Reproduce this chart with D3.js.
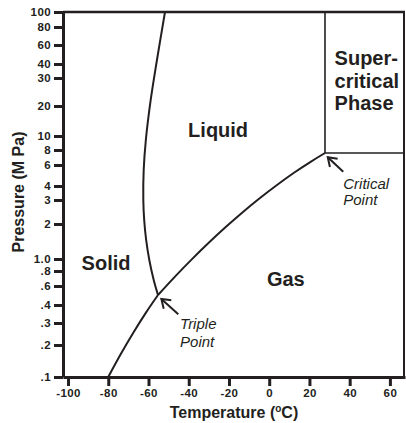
<!DOCTYPE html>
<html>
<head>
<meta charset="utf-8">
<script src="https://cdn.jsdelivr.net/npm/d3@7"></script>
<style>
  body { margin: 0; background: #fff; }
  svg { display: block; font-family: "Liberation Sans", Arial, sans-serif; }
</style>
</head>
<body>
<div id="chart"></div>
<script>
    // axis ticks
    const tempTicks = [-100, -80, -60, -40, -20, 0, 20, 40, 60]
    const pressureTicks = [100, 80, 60, 40, 30, 20, 10, 8, 6, 4, 3, 2, 1, 0.8, 0.6, 0.4, 0.3, 0.2, 0.1]
    const pressureLabels = ["100", "80", "60", "40", "30", "20", "10", "8", "6", "4", "3", "2", "1.0", ".8", ".6", ".4", ".3", ".2", ".1"]

    // phase boundaries, [temperature °C, pressure MPa]
    const sublimation = [[-80, 0.1], [-73.77, 0.1644], [-67.56, 0.2509], [-61.34, 0.3528], [-55.28, 0.495]]
    const melting = [[-55.28, 0.495], [-57.41, 0.673], [-59.6, 0.9815], [-61.17, 1.457], [-62.14, 2.14], [-62.58, 3.0],
        [-62.39, 5.449], [-61.32, 9.382], [-58.91, 21.82], [-55.8, 43.59], [-51.8, 100]]
    const vaporization = [[-55.28, 0.495], [-46.83, 0.7187], [-38.38, 0.998], [-29.93, 1.386], [-21.48, 1.892],
        [-13.03, 2.452], [-4.58, 3.126], [3.87, 4.079], [12.32, 5.163], [20.77, 6.405], [27.73, 7.552]]
    const criticalPoint = [27.73, 7.552]
    const triplePoint = [-55.28, 0.495]

    const graphWidth = 406
    const graphHeight = 423
    const ink = "#231f20"

    let svg = d3.select("#chart")
        .append("svg")
        .attr("width", graphWidth)
        .attr("height", graphHeight)

    let x = d3.scaleLinear() // temperature
        .domain([-102.5, 67.5])
        .range([63, 405])

    // the printed pressure axis is log-like but not evenly spaced, so calibrate it tick by tick
    let y = d3.scaleLog()
        .domain([0.1, 0.2, 0.3, 0.4, 0.6, 0.8, 1, 2, 3, 4, 6, 8, 10, 20, 30, 40, 60, 80, 100])
        .range([377, 345, 323, 305, 286, 271, 259, 224, 200, 186, 165, 150, 136, 106, 78, 64, 45, 27, 12])

    const tMin = x.domain()[0], tMax = x.domain()[1]

    // frame top + right
    svg.append("line")
        .attr("x1", x(tMin)).attr("x2", x(tMax))
        .attr("y1", y(100)).attr("y2", y(100))
        .attr("stroke", ink).attr("stroke-width", 2.5)
    svg.append("line")
        .attr("x1", x(tMax) - 1).attr("x2", x(tMax) - 1)
        .attr("y1", y(100)).attr("y2", y(0.1))
        .attr("stroke", ink).attr("stroke-width", 2)

    // axes
    let xAxis = svg.append("g")
        .attr("transform", "translate(0," + y(0.1) + ")")
        .call(d3.axisBottom(x).tickValues(tempTicks).tickSize(9).tickPadding(3).tickSizeOuter(0)
            .tickFormat((d) => String(d))) // plain hyphen like the print
    let yAxis = svg.append("g")
        .attr("transform", "translate(" + x(tMin) + ",0)")
        .call(d3.axisLeft(y).tickValues(pressureTicks).tickSize(9).tickPadding(3).tickSizeOuter(0)
            .tickFormat((d, i) => pressureLabels[i]))

    for (const ax of [xAxis, yAxis]) {
        ax.select(".domain").attr("stroke", ink).attr("stroke-width", 3)
        ax.selectAll(".tick line").attr("stroke", ink).attr("stroke-width", 3)
        ax.selectAll(".tick text")
            .attr("fill", ink)
            .attr("font-size", 11.5)
            .attr("font-weight", "bold")
            .attr("letter-spacing", 0.4)
            .attr("font-family", "Liberation Sans, Arial, sans-serif")
    }

    // axis titles
    let xTitle = svg.append("text")
        .attr("x", (x(tMin) + x(tMax)) / 2)
        .attr("y", 418)
        .attr("text-anchor", "middle")
        .attr("font-size", 16)
        .attr("font-weight", "bold")
        .attr("fill", ink)
    xTitle.append("tspan").text("Temperature (")
    xTitle.append("tspan").text("o").attr("font-size", 10).attr("dy", -6)
    xTitle.append("tspan").text("C)").attr("dy", 6)

    svg.append("text")
        .attr("transform", "translate(24,192) rotate(-90)")
        .attr("text-anchor", "middle")
        .attr("font-size", 16)
        .attr("font-weight", "bold")
        .attr("fill", ink)
        .text("Pressure (M Pa)")

    // phase boundaries
    let line = d3.line()
        .x((d) => x(d[0]))
        .y((d) => y(d[1]))
        .curve(d3.curveCatmullRom.alpha(0.5))

    for (const curve of [sublimation, melting, vaporization]) {
        svg.append("path")
            .attr("d", line(curve))
            .attr("fill", "none")
            .attr("stroke", ink)
            .attr("stroke-width", 2)
    }

    // supercritical region edges
    svg.append("line")
        .attr("x1", x(criticalPoint[0])).attr("x2", x(criticalPoint[0]))
        .attr("y1", y(criticalPoint[1])).attr("y2", y(100))
        .attr("stroke", ink).attr("stroke-width", 1.6)
    svg.append("line")
        .attr("x1", x(criticalPoint[0])).attr("x2", x(tMax))
        .attr("y1", y(criticalPoint[1])).attr("y2", y(criticalPoint[1]))
        .attr("stroke", ink).attr("stroke-width", 1.6)

    // arrows: from label toward the point
    function arrow(from, to) {
        let x1 = x(from[0]), y1 = y(from[1]), x2 = x(to[0]), y2 = y(to[1])
        let ang = Math.atan2(y1 - y2, x1 - x2)
        let len = 10, spread = 0.6
        let pts = [
            [x2 + len * Math.cos(ang + spread), y2 + len * Math.sin(ang + spread)],
            [x2, y2],
            [x2 + len * Math.cos(ang - spread), y2 + len * Math.sin(ang - spread)]
        ]
        svg.append("line")
            .attr("x1", x1).attr("y1", y1).attr("x2", x2).attr("y2", y2)
            .attr("stroke", ink).attr("stroke-width", 2)
        svg.append("path")
            .attr("d", d3.line()(pts))
            .attr("fill", "none")
            .attr("stroke", ink).attr("stroke-width", 2)
    }
    arrow([-45.2, 0.345], [-53.6, 0.455])
    arrow([36.8, 5.27], [29.1, 6.96])

    // region labels
    function label(t, p, lines, opts) {
        let txt = svg.append("text")
            .attr("x", x(t))
            .attr("y", y(p))
            .attr("text-anchor", opts.anchor || "start")
            .attr("font-size", opts.size)
            .attr("font-weight", opts.weight || "normal")
            .attr("font-style", opts.style || "normal")
            .attr("fill", ink)
        lines.forEach((s, i) => {
            txt.append("tspan")
                .attr("x", x(t))
                .attr("dy", i === 0 ? 0 : opts.lead)
                .text(s)
        })
    }
    label(-25.4, 9.8, ["Liquid"], { size: 20, weight: "bold", anchor: "middle" })
    label(-81.1, 0.814, ["Solid"], { size: 20, weight: "bold", anchor: "middle" })
    label(8.25, 0.6, ["Gas"], { size: 20, weight: "bold", anchor: "middle" })
    label(32.5, 38.9, ["Super-", "critical", "Phase"], { size: 20, weight: "bold", lead: 22.5 })
    label(36.8, 3.79, ["Critical", "Point"], { size: 15, style: "italic", lead: 16 })
    label(-44.3, 0.27, ["Triple", "Point"], { size: 15, style: "italic", lead: 18 })
</script>
</body>
</html>
